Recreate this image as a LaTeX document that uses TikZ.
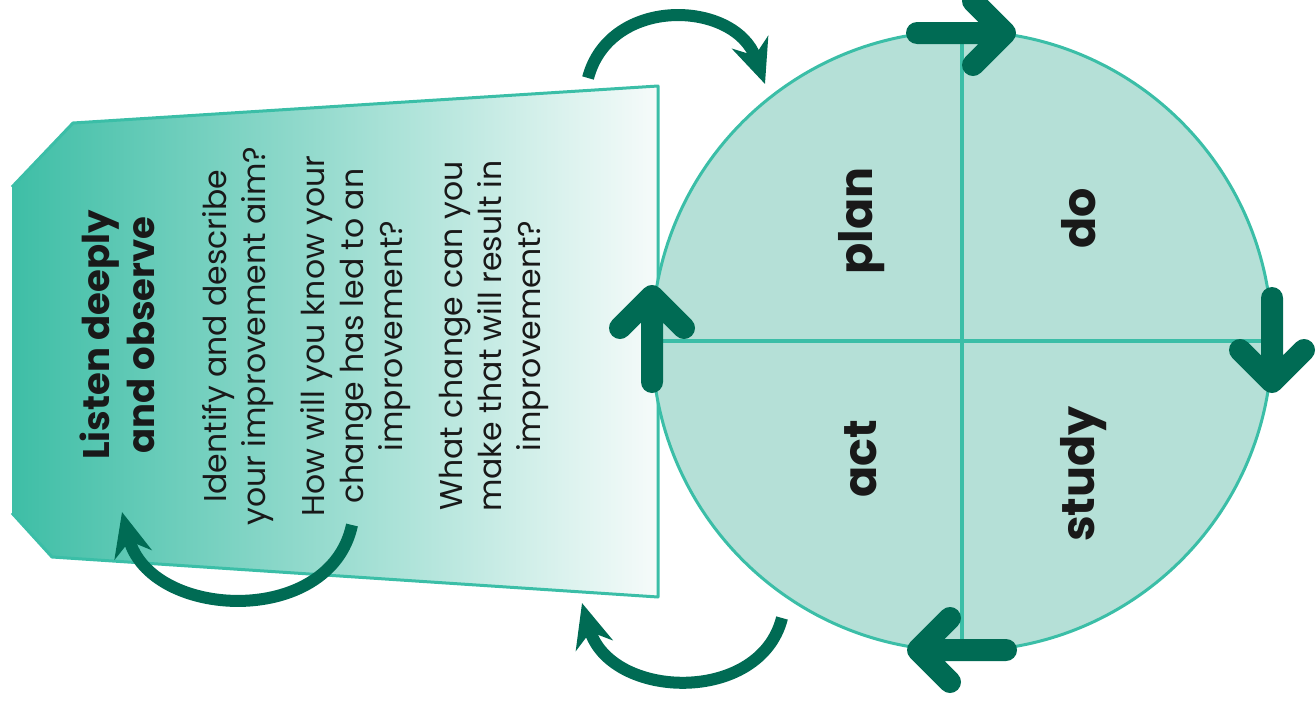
\documentclass[tikz,border=0pt]{standalone}
\usepackage{fontspec}
\setmainfont{Poppins}
\usetikzlibrary{arrows.meta}
\definecolor{circfill}{RGB}{181,224,215}
\definecolor{tealline}{RGB}{59,190,167}
\definecolor{darkg}{RGB}{0,107,84}
\definecolor{bannerL}{RGB}{62,190,166}
\definecolor{bannerM}{RGB}{160,218,207}
\definecolor{bannerR}{RGB}{246,251,250}
\definecolor{txt}{RGB}{25,25,25}
\tikzset{
  qtext/.style={rotate=90, align=center, text=txt, inner sep=0pt, font=\fontsize{31.5}{39}\selectfont},
  ttext/.style={rotate=90, align=center, text=txt, inner sep=0pt, font=\bfseries\fontsize{37}{45}\selectfont},
  ctext/.style={rotate=90, text=txt, inner sep=0pt, font=\bfseries\fontsize{46}{50}\selectfont},
  curvarrow/.style={draw=darkg, line width=12pt, -{Stealth[length=44pt,width=38pt,inset=14pt]}},
  chev/.style={draw=darkg, line width=22pt, line cap=round, line join=round},
  divider/.style={draw=tealline, line width=3.5pt},
}
\begin{document}
\begin{tikzpicture}[x=1pt,y=-1pt]
\useasboundingbox (0,0) rectangle (1316,704);
% banner
\path[left color=bannerL, middle color=bannerM, right color=bannerR, shading angle=90]
  (73,123) -- (658,86) -- (658,597) -- (52,557) -- (12,513) -- (12,187) -- cycle;
\draw[tealline, line width=3pt, line join=round]
  (12,187) -- (73,123) -- (658,86) -- (658,597) -- (52,557) -- (12,513);
% circle
\node[circle, draw=tealline, fill=circfill, line width=3pt, minimum size=620pt, inner sep=0pt] (cyc) at (962,341) {};
\draw[divider] (cyc.north) -- (cyc.south);
\draw[divider] (cyc.west) -- (cyc.east);
% circle labels
\node[ctext] (plan) at (862,221) {plan};
\node[ctext] (do) at (1079,218) {do};
\node[ctext] (act) at (861,459) {act};
\node[ctext] (study) at (1084,474) {study};
% banner texts
\node[ttext] (title) at (117,335) {Listen deeply\\and observe};
\node[qtext] (q1) at (238,336) {Identify and describe\\your improvement aim?};
\node[qtext] (q2) at (356,336) {How will you know your\\change has led to an\\improvement?};
\node[qtext] (q3) at (494,336) {What change can you\\make that will result in\\improvement?};
% curved arrows
\draw[curvarrow] (588,78) .. controls (610,-5) and (735,0) .. (765,84);
\draw[curvarrow] (782,618) .. controls (760,705) and (610,700) .. (582,603);
\draw[curvarrow] (352,525) .. controls (330,628) and (150,620) .. (122,512);
% chevron arrows round the cycle
\draw[chev] (917,33) -- (1005,33) (973,1) -- (1005,33) -- (973,65);
\draw[chev] (1272,298) -- (1272,382) (1240,350) -- (1272,382) -- (1304,350);
\draw[chev] (1006,650) -- (918,650) (950,618) -- (918,650) -- (950,682);
\draw[chev] (652,382) -- (652,296) (620,328) -- (652,296) -- (684,328);
\end{tikzpicture}
\end{document}
